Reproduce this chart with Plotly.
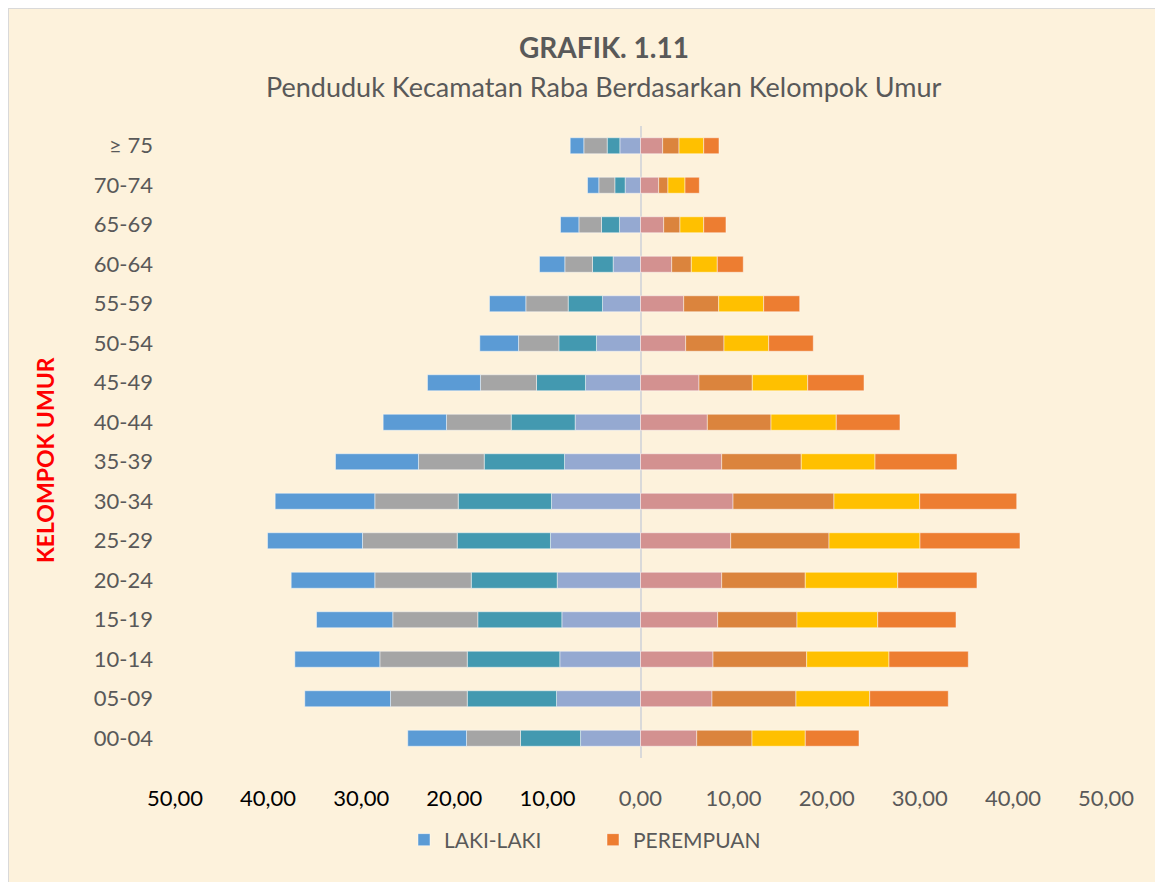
import plotly.graph_objects as go

categories = ["00-04", "05-09", "10-14", "15-19", "20-24", "25-29", "30-34", "35-39",
              "40-44", "45-49", "50-54", "55-59", "60-64", "65-69", "70-74", "\u2265 75"]

# Laki-laki (left side), four stacked parts from the centre outward
laki_1 = [6.44, 9.02, 8.67, 8.45, 8.95, 9.67, 9.56, 8.16, 7.02, 5.91, 4.73, 4.08, 2.94, 2.26, 1.65, 2.22]
laki_2 = [6.45, 9.59, 9.94, 9.03, 9.23, 10.02, 10.02, 8.63, 6.87, 5.26, 4.04, 3.69, 2.22, 1.93, 1.11, 1.36]
laki_3 = [5.80, 8.24, 9.39, 9.13, 10.36, 10.17, 8.96, 7.06, 6.95, 6.02, 4.33, 4.55, 2.97, 2.43, 1.72, 2.51]
laki_4 = [6.31, 9.21, 9.13, 8.19, 8.98, 10.20, 10.70, 8.91, 6.80, 5.69, 4.16, 3.90, 2.72, 1.97, 1.21, 1.46]

# Perempuan (right side), four stacked parts from the centre outward
per_1 = [6.04, 7.68, 7.79, 8.29, 8.72, 9.69, 9.94, 8.72, 7.18, 6.28, 4.85, 4.64, 3.35, 2.49, 1.95, 2.38]
per_2 = [5.94, 9.02, 10.06, 8.52, 8.98, 10.56, 10.84, 8.55, 6.84, 5.73, 4.12, 3.76, 2.11, 1.75, 1.00, 1.76]
per_3 = [5.72, 7.92, 8.84, 8.67, 9.93, 9.77, 9.21, 7.92, 7.01, 5.95, 4.80, 4.83, 2.79, 2.55, 1.83, 2.65]
per_4 = [5.77, 8.44, 8.52, 8.41, 8.51, 10.74, 10.42, 8.81, 6.84, 6.05, 4.79, 3.87, 2.79, 2.39, 1.54, 1.64]

tick_values = [-50, -40, -30, -20, -10, 0, 10, 20, 30, 40, 50]
tick_labels = ["50,00", "40,00", "30,00", "20,00", "10,00", "0,00",
               "10,00", "20,00", "30,00", "40,00", "50,00"]

left_colors = ["#95A9D1", "#4399B0", "#A5A5A5", "#5B9BD5"]
right_colors = ["#D39190", "#DB843D", "#FFC000", "#ED7D31"]

fig = go.Figure()
edge = dict(color="rgba(255,255,255,0.45)", width=1)

for i, (vals, col) in enumerate(zip([laki_1, laki_2, laki_3, laki_4], left_colors)):
    fig.add_trace(go.Bar(
        y=categories, x=[-v for v in vals], orientation="h",
        marker=dict(color=col, line=edge),
        name="LAKI-LAKI", showlegend=(i == 3), legendrank=1,
    ))
for i, (vals, col) in enumerate(zip([per_1, per_2, per_3, per_4], right_colors)):
    fig.add_trace(go.Bar(
        y=categories, x=vals, orientation="h",
        marker=dict(color=col, line=edge),
        name="PEREMPUAN", showlegend=(i == 3), legendrank=2,
    ))

ticktext = []
for v, t in zip(tick_values, tick_labels):
    if v < 0:
        ticktext.append("<span style='color:#000000'>" + t + "</span>")
    else:
        ticktext.append(t)

font_main = "Lato, Carlito, Calibri, sans-serif"

# page body adds an 8px offset; figure is sized to fit the window
W, H = 1155, 874
L, T, PW, PH = 167, 118, 931, 632
R = W - L - PW
B = H - T - PH


def px(x):
    return (x - L) / PW


def py(y):
    return 1 - (y - T) / PH


fig.update_layout(
    width=W, height=H,
    barmode="relative", bargap=0.595,
    paper_bgcolor="#FFFFFF", plot_bgcolor="rgba(0,0,0,0)",
    margin=dict(l=L, r=R, t=T, b=B, autoexpand=False),
    font=dict(family=font_main, color="#595959", size=20),
    xaxis=dict(
        range=[-50, 50], tickvals=tick_values, ticktext=ticktext,
        showgrid=False, zeroline=True, zerolinecolor="#D9D9D9", zerolinewidth=2,
        showline=False, ticks="", ticklabelstandoff=25,
        tickfont=dict(family=font_main, size=22, color="#595959"),
        fixedrange=True,
    ),
    yaxis=dict(
        type="category", range=[-0.5, 15.5],
        showgrid=False, showline=False, ticks="", ticklabelstandoff=21,
        tickfont=dict(family=font_main, size=22, color="#595959"),
        fixedrange=True,
    ),
    legend=dict(
        orientation="h", x=px(396), xanchor="left", y=py(832), yanchor="middle",
        font=dict(family=font_main, size=21, color="#595959"),
        bgcolor="rgba(0,0,0,0)", itemwidth=30, traceorder="normal",
        entrywidth=144,
    ),
    shapes=[dict(
        type="rect", xref="paper", yref="paper", layer="below",
        x0=px(0), x1=px(1149), y0=py(H + 20), y1=py(0),
        fillcolor="#FDF2DC", line=dict(color="#D9D9D9", width=2),
    )],
    annotations=[
        dict(text="<b>GRAFIK. 1.11</b>", xref="paper", yref="paper",
             x=px(596), y=py(39), xanchor="center", yanchor="middle",
             showarrow=False, font=dict(family=font_main, size=28, color="#595959")),
        dict(text="Penduduk Kecamatan Raba Berdasarkan Kelompok Umur", xref="paper", yref="paper",
             x=px(596), y=py(78), xanchor="center", yanchor="middle",
             showarrow=False, font=dict(family=font_main, size=27, color="#595959")),
        dict(text="<b>KELOMPOK UMUR</b>", xref="paper", yref="paper",
             x=px(37), y=py(452), xanchor="center", yanchor="middle",
             textangle=-90, showarrow=False,
             font=dict(family=font_main, size=23, color="#FF0000")),
    ],
)

fig.write_html("out.html")
